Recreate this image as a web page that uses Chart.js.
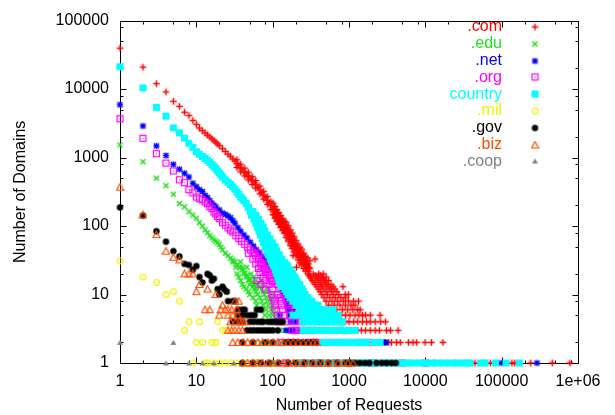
<!DOCTYPE html>
<html>
<head>
<meta charset="utf-8">
<script src="https://cdn.jsdelivr.net/npm/chart.js@4.4.1/dist/chart.umd.min.js"></script>
<style>
  html, body { margin: 0; padding: 0; background: #fff; }
  #wrap { width: 615px; height: 415px; }
</style>
</head>
<body>
<div id="wrap"><canvas id="chart" width="615" height="415"></canvas></div>
<script>
// ==========================
// DATA  ([requests, domains])
// ==========================
const seriesNames = [".com", ".edu", ".net", ".org", "country", ".mil", ".gov", ".biz", ".coop"];

const comPoints = [
  [1,39600],[2,20900],[3,12000],[4,9100],[5,6640],[6,5590],[7,4590],[8,4110],[9,3490],[10,3060],[11,2700],
  [12,2470],[13,2290],[14,2130],[15,2000],[16,1880],[17,1770],[18,1670],[19,1580],[20,1490],[22,1350],[24,1230],
  [26,1120],[28,1040],[30,955],[32,890],
  [34,930],[34,816],[34,716],[36,760],[38,800],[38,703],[38,617],[40,660],[43,700],[43,615],[43,540],[45,575],
  [48,610],[48,535],[48,470],[51,500],[54,527],[54,462],[54,405],[57,435],[60,463],[60,406],[60,356],[64,370],
  [68,383],[68,336],[68,295],[72,310],[76,321],[76,282],[76,247],[80,260],[85,270],[85,237],[85,208],[90,218],
  [95,226],[95,198],[95,174],
  [101,217],[101,178],[101,146],[107,193],[107,158],[107,130],[113,174],[113,143],[113,117],[120,157],[120,129],[120,106],
  [127,143],[127,117],[127,96],[135,128],[135,105],[135,86],[142,117],[142,96],[142,79],[150,114],[150,88],[150,68],
  [160,101],[160,78],[160,60],[170,88],[170,68],[170,52],[180,79],[180,61],[180,47],[190,70],[190,54],[190,42],
  [202,62],[202,48],[202,37],[215,55],[215,42],[215,32],[227,49],[227,38],[227,29],[240,46],[240,35],[240,27],
  [255,40],[255,31],[255,24],[270,36],[270,28],[270,22],[287,34],[287,26],[305,31],[305,24],
  [104,191],[104,168],[104,147],[110,171],[110,150],[110,132],[116,155],[116,136],[116,119],[123,140],[123,123],[123,108],
  [131,127],[131,111],[131,97],[138,114],[138,100],[138,88],[146,105],[146,92],[146,81],[155,95],[155,83],[155,73],
  [165,83],[165,73],[165,64],[175,73],[175,64],[175,56],[185,65],[185,57],[185,50],[196,58],[196,51],[196,45],
  [208,51],[208,45],[208,39],[221,46],[221,40],[221,35],[233,42],[233,36],[233,32],[247,38],[247,33],[247,29],
  [262,34],[262,29],[262,26],[278,31],[278,27],[278,24],[296,28],[296,25],[296,22],
  [185,37],[205,25],[358,33],
  [290,20],[340,20],[400,20],[460,20],[300,19],[360,19],[420,19],[310,18],[370,18],[440,18],[500,18],
  [320,17],[385,17],[460,17],[330,16],[400,16],[470,16],[540,16],[350,15],[420,15],[490,15],
  [360,14],[430,14],[510,14],[580,14],[380,13],[450,13],[530,13],[620,13],[830,13],
  [400,12],[470,12],[560,12],[650,12],[420,11],[500,11],[590,11],[690,11],
  [440,10],[520,10],[620,10],[730,10],[890,10],[980,10],[470,9],[560,9],[660,9],[780,9],[900,9],
  [500,8],[600,8],[710,8],[840,8],[980,8],[1140,8],[1330,8],[540,7],[640,7],[760,7],[900,7],[1060,7],[1200,7],
  [580,6],[690,6],[820,6],[960,6],[1120,6],[1300,6],[1400,6],
  [560,5],[660,5],[780,5],[900,5],[1030,5],[1200,5],[1350,5],[1500,5],[1650,5],[1900,5],[2550,5],
  [800,4],[900,4],[1000,4],[1150,4],[1300,4],[1500,4],[1700,4],[1900,4],[2200,4],[2600,4],[3000,4],
  [1000,3],[1150,3],[1300,3],[1450,3],[1650,3],[1900,3],[2200,3],[2500,3],[3100,3],[3500,3],[4400,3],
  [1500,2],[2000,2],[2500,2],[3000,2],[3300,2],[3600,2],[4200,2],[4700,2],[6000,2],[6900,2],[7700,2],
  [9900,2],[12000,2],[17000,2],
  [6000,1],[13000,1],[25000,1],[44800,1],[71000,1],[136000,1],[148000,1],[240000,1],[460000,1],[785000,1]
];

const eduPoints = [
  [1,1530],[2,870],[3,500],[4,390],[5,292],[6,213],[7,191],[8,162],[9,145],[10,130],
  [11,112],[12,100],[13,88],[14,80],[15,72],[16,67],[17,63],[18,60],[19,57],[20,54],[21,49],[22,45],
  [24,40],[26,37],[28,34],[30,32],[32,30],[34,27],[37,25],[40,23],[43,21],[46,19],[50,17],[53,15],[56,14],[60,12.5],
  [30,30],[38,30],[33,25],[40,25],[46,25],[34,20],[42,20],[52,20],[36,18],[45,18],[56,18],
  [38,16],[48,16],[60,16],[72,16],[40,14],[50,14],[62,14],[75,14],[42,13],[55,13],[68,13],
  [45,12],[58,12],[72,12],[85,12],[25,11],[48,11],[60,11],[75,11],[90,11],
  [50,10],[63,10],[78,10],[95,10],[55,9],[68,9],[82,9],[97,9],[60,8],[72,8],[85,8],[97,8],
  [62,7],[75,7],[88,7],[100,7],[70,6],[82,6],[95,6],[105,6],[79,5],[90,5],[100,5],[110,5],
  [85,4],[95,4],[110,4],[120,4],[97,3],[110,3],[125,3],[145,3],
  [70,2],[90,2],[110,2],[130,2],[150,2],[100,1],[200,1],[400,1]
];

const netPoints = [
  [1,5910],[2,2890],[3,1480],[4,1070],[5,795],[6,675],[7,590],[8,520],[9,420],[10,375],[11,340],[12,320],
  [13,280],[14,260],[15,235],[16,215],[17,200],[18,190],[20,172],[22,155],[24,148],[26,140],[28,132],[30,120],
  [32,110],[35,95],[38,84],[42,74],[46,67],[51,58],[56,51],[61,45],[66,41],[72,36],[78,32],[84,29],[92,25],
  [100,22],[108,20],[115,17],[125,15],[138,12],
  [130,12],[145,12],[135,11],[150,11],[140,10],[155,10],[145,9],[160,9],[150,8],[170,8],[155,7],[180,7],
  [160,6],[185,6],[125,5],[165,5],[190,5],[100,4],[135,4],[170,4],[200,4],[150,3],[170,3],[190,3],[230,3],
  [250,2],[400,2],[2900,2],[3050,2],[500,1],[2000,1],[100000,1],[290000,1]
];

const orgPoints = [
  [1,3690],[2,1910],[3,1140],[4,830],[5,637],[6,474],[7,430],[8,340],[9,305],[10,265],
  [11,250],[12,242],[13,225],[14,213],[15,192],[16,181],[17,160],[18,150],[19,138],[20,128],[22,112],[24,103],
  [26,94],[28,87],[30,82],[33,72],[36,66],[39,60],[43,54],[47,49],[51,45],[55,41],[60,37],[65,33],[70,29],
  [75,26],[80,23],[85,21],[90,19],[95,17],[100,15.5],
  [48,40],[58,40],[66,40],[55,33],[65,33],[75,33],[60,28],[70,28],[80,28],[65,24],[75,24],[88,24],
  [68,21],[80,21],[95,21],[75,18],[95,18],[62,16],[80,16],[100,16],[118,16],[70,14],[90,14],[115,14],[135,14],
  [80,12],[100,12],[125,12],[150,12],[97,10],[115,10],[140,10],[169,10],[100,9],[125,9],[150,9],[175,9],
  [105,8],[130,8],[155,8],[180,8],[107,7],[130,7],[160,7],[185,7],[107,6],[135,6],[165,6],[200,6],
  [115,5],[140,5],[170,5],[210,5],[120,4],[150,4],[190,4],[240,4],[180,3],[200,3],[230,3],[270,3],[320,3],
  [130,2],[170,2],[200,2],[300,2],[360,2],[410,2],[500,2],[620,2],[800,2],[1000,2],[1300,2],[1500,2],[1820,2],
  [150,1],[250,1],[400,1],[700,1],[1000,1],[2000,1],[5000,1],[10000,1]
];

const countryPoints = [
  [1,21200],[2,10400],[3,5410],[4,4020],[5,2710],[6,2300],[7,1920],[8,1620],[9,1400],[10,1220],
  [11,1120],[12,1040],[13,970],[14,910],[15,850],[16,790],[17,740],[18,690],[19,640],[20,600],[21,560],[22,520],
  [24,470],[26,435],[28,405],[30,375],[32,345],[34,315],[36,290],[38,265],[40,250],[42,235],[45,213],[48,188],
  [51,163],[55,163],[53,143],[60,143],[57,125],[65,125],[60,110],[70,110],[63,97],[75,97],[66,85],[79,85],
  [69,74],[77,74],[85,74],[73,65],[82,65],[92,65],[76,57],[87,57],[99,57],[79,50],[92,50],[107,50],
  [84,43],[97,43],[113,43],[88,38],[103,38],[122,38],[94,33],[111,33],[132,33],[96,31],[113,31],[131,31],
  [99,29],[115,29],[130,29],[145,29],[101,27],[118,27],[135,27],[150,27],[104,26],[122,26],[140,26],[157,26],
  [108,23],[125,23],[146,23],[169,23],[111,21],[128,21],[151,21],[176,21],
  [114,20],[132,20],[156,20],[183,20],[117,18],[137,18],[164,18],[196,18],[121,16],[141,16],[170,16],[203,16],
  [125,15],[146,15],[176,15],[210,15],[128,14],[150,14],[178,14],[207,14],[225,14],
  [132,13],[156,13],[182,13],[205,13],[228,13],[145,12],[170,12],[195,12],[220,12],[242,12],
  [152,11],[177,11],[202,11],[228,11],[252,11],
  [159,10],[185,10],[210,10],[238,10],[265,10],[169,9],[195,9],[222,9],[255,9],[290,9],
  [184,8],[210,8],[240,8],[285,8],[326,8],[202,7],[235,7],[270,7],[310,7],[350,7],[392,7],
  [228,6],[265,6],[305,6],[350,6],[410,6],[470,6],[540,6],[618,6],
  [185,5],[215,5],[250,5],[290,5],[330,5],[380,5],[430,5],[490,5],[560,5],[640,5],[720,5],
  [250,4],[290,4],[335,4],[385,4],[445,4],[510,4],[590,4],[680,4],[780,4],[820,4],
  [250,3],[290,3],[335,3],[385,3],[445,3],[510,3],[590,3],[680,3],[780,3],[900,3],[1030,3],[1200,3],
  [450,2],[510,2],[590,2],[680,2],[780,2],[900,2],[1030,2],[1200,2],[1380,2],[1580,2],[1700,2],[2150,2],[2550,2],
  [228,1],[272,1],[326,1],[392,1],[470,1],[564,1],[677,1],[815,1],[980,1],[1180,1],[1390,1],[1700,1],[2000,1],
  [2400,1],[2900,1],[3440,1],[4150,1],[5000,1],[6000,1],[7200,1],[8500,1],[10300,1],[12400,1],[14800,1],
  [17800,1],[21000,1],[25500,1],[30500,1],[35000,1],[38500,1],[53000,1],[60500,1],[83000,1],[114000,1],[170000,1]
];

const milPoints = [
  [1,31],[2,18],[3,15],[4,10],[5,11],[6,8],[7,3],[8,4],[11,4],[19,4],[22,3],[24,3],
  [10,2],[12,2],[16,2],[18,2],
  [9,1],[13,1],[14,1],[17,1],[20,1],[24,1],[29,1],[34,1],[45,1],[60,1]
];

const govPoints = [
  [1,187],[2,142],[3,84],[4,59],[5,43],[6,36],[7,28],[8,27],[9,23],[10,26],[11,18],[12,15],[14,20],[15,19],
  [16,16],[17,17],[19,12],[20,10],[22,13],[23,12],[25,11],[26,8],[30,8],[32,8],[35,6],[40,6],[43,6],[62,6],[70,6],
  [35,5],[40,5],[46,5],[52,5],[58,5],
  [30,4],[35,4],[40,4],[50,4],[56,4],[63,4],[70,4],[75,4],[87,4],[97,4],[110,4],[122,4],[135,4],
  [46,3],[51,3],[56,3],[62,3],[68,3],[75,3],[82,3],[90,3],[100,3],[117,3],
  [40,2],[55,2],[80,2],[100,2],[150,2],[170,2],[190,2],[215,2],[245,2],[280,2],[320,2],[360,2],
  [40,1],[55,1],[70,1],[90,1],[120,1],[160,1],[200,1],[260,1],[330,1],[420,1],[540,1],[700,1],[900,1],
  [1030,1],[1200,1],[1390,1],[1620,1],[1850,1],[2300,1],[2700,1],[3100,1],[3600,1],[4100,1]
];

const bizPoints = [
  [1,369],[2,145],[3,75],[4,43],[5,35],[6,32],[7,20],[8,20],[9,20],[10,11],[11,14],[14,12],[18,10],[22,7],
  [13,6],[15,6],[21,6],[24,6],[26,6],[29,6],[34,6],[32,8],[36,8],[20,5],[26,5],[30,5],[35,5],
  [28,4],[33,4],[37,4],[40,4],[43,4],[26,3],[29,3],[32,3],[36,3],[40,3],
  [30,2],[35,2],[41,2],[47,2],[55,2],[64,2],[74,2],[87,2],[101,2],[117,2],[137,2],[159,2],[185,2],[215,2],
  [251,2],[292,2],[339,2],[380,2],
  [41,1],[47,1],[55,1],[64,1],[74,1],[87,1],[101,1],[117,1],[137,1],[159,1],[185,1],[215,1],[251,1],[292,1],
  [339,1],[392,1],[458,1],[530,1],[617,1],[720,1],[835,1],[970,1],[1130,1]
];

const coopPoints = [
  [1,2],[5,2],[4,1],[8,1],[12,1],[17,1],[31,1]
];

const seriesData = [comPoints, eduPoints, netPoints, orgPoints, countryPoints, milPoints, govPoints, bizPoints, coopPoints];

// axis ticks
const xTickValues = [1, 10, 100, 1000, 10000, 100000, 1000000];
const xTickLabels = ["1", "10", "100", "1000", "10000", "100000", "1e+06"];
const yTickValues = [1, 10, 100, 1000, 10000, 100000];
const yTickLabels = ["1", "10", "100", "1000", "10000", "100000"];
const minorSteps = [2, 5, 8];

// ==========================
// STYLE
// ==========================
const seriesColors = ["#ff0000", "#1ee01e", "#0000ff", "#ff00ff", "#00ffff", "#f0f000", "#000000", "#ff4d00", "#808080"];
const markerKinds = ["plus", "cross", "star", "box", "boxFilled", "circle", "circleFilled", "triangle", "triangleFilled"];

Chart.defaults.font.family = '"Liberation Sans", Arial, Helvetica, sans-serif';
Chart.defaults.font.size = 16;
Chart.defaults.color = "#000";

// small canvases used as point markers (gnuplot style)
function makeMarker(kind, color) {
    const c = document.createElement("canvas");
    c.width = 9;
    c.height = 9;
    const g = c.getContext("2d");
    g.strokeStyle = color;
    g.fillStyle = color;
    g.lineWidth = 1.5;
    const m = 4.5;
    const line = (x1, y1, x2, y2) => {
        g.beginPath(); g.moveTo(x1, y1); g.lineTo(x2, y2); g.stroke();
    };
    switch (kind) {
        case "plus":
            line(m, 1.2, m, 7.8); line(1.2, m, 7.8, m);
            break;
        case "cross":
            line(2, 2, 7, 7); line(2, 7, 7, 2);
            break;
        case "star":
            line(m, 1.5, m, 7.5); line(1.5, m, 7.5, m);
            line(2, 2, 7, 7); line(2, 7, 7, 2);
            break;
        case "box":
            g.lineWidth = 1.2;
            g.strokeRect(1.5, 1.5, 6, 6);
            g.fillRect(4, 4, 1, 1);
            break;
        case "boxFilled":
            g.fillRect(1, 1, 7, 7);
            break;
        case "circle":
            g.lineWidth = 1.2;
            g.beginPath(); g.arc(m, m, 2.9, 0, Math.PI * 2); g.stroke();
            g.fillRect(4, 4, 1, 1);
            break;
        case "circleFilled":
            g.beginPath(); g.arc(m, m, 3.2, 0, Math.PI * 2); g.fill();
            break;
        case "triangle":
            g.lineWidth = 1.2;
            g.beginPath(); g.moveTo(m, 1); g.lineTo(8, 7.5); g.lineTo(1, 7.5); g.closePath(); g.stroke();
            break;
        case "triangleFilled":
            g.beginPath(); g.moveTo(m, 2); g.lineTo(7.5, 7); g.lineTo(1.5, 7); g.closePath(); g.fill();
            break;
    }
    return c;
}

const markers = markerKinds.map((k, i) => makeMarker(k, seriesColors[i]));

// ==========================
// FRAME + INWARD TICKS
// ==========================
const framePlugin = {
    id: "frame",
    beforeDatasetsDraw(chart) {
        const { ctx, chartArea: a, scales: { x, y } } = chart;
        ctx.save();
        ctx.strokeStyle = "#000";
        ctx.lineWidth = 1;
        const L = Math.round(a.left) + 0.5, R = Math.round(a.right) + 0.5;
        const T = Math.round(a.top) + 0.5, B = Math.round(a.bottom) + 0.5;
        ctx.strokeRect(L, T, R - L, B - T);

        const tick = (x1, y1, x2, y2) => {
            ctx.beginPath(); ctx.moveTo(x1, y1); ctx.lineTo(x2, y2); ctx.stroke();
        };
        const xTick = (v, len) => {
            const px = Math.round(x.getPixelForValue(v)) + 0.5;
            tick(px, B, px, B - len);
            tick(px, T, px, T + len);
        };
        const yTick = (v, len) => {
            const py = Math.round(y.getPixelForValue(v)) + 0.5;
            tick(L, py, L + len, py);
            tick(R, py, R - len, py);
        };
        xTickValues.forEach(v => xTick(v, 6));
        yTickValues.forEach(v => yTick(v, 6));
        xTickValues.slice(0, -1).forEach(d => minorSteps.forEach(s => xTick(d * s, 3)));
        yTickValues.slice(0, -1).forEach(d => minorSteps.forEach(s => yTick(d * s, 3)));
        ctx.restore();
    }
};

// ==========================
// KEY (text right-aligned, symbol on the right)
// ==========================
const keyPlugin = {
    id: "key",
    afterDatasetsDraw(chart) {
        const { ctx } = chart;
        ctx.save();
        ctx.font = '16px "Liberation Sans", Arial, sans-serif';
        ctx.textAlign = "right";
        ctx.textBaseline = "middle";
        seriesNames.forEach((name, i) => {
            const rowY = 27 + i * 16.8;
            ctx.fillStyle = seriesColors[i];
            ctx.fillText(name, 502, rowY);
            ctx.drawImage(markers[i], 535 - 4.5, Math.round(rowY) - 4.5);
        });
        ctx.restore();
    }
};

// ==========================
// CHART
// ==========================
new Chart(document.getElementById("chart"), {
    type: "scatter",
    data: {
        datasets: seriesNames.map((name, i) => ({
            label: name,
            data: seriesData[i].map(([x, y]) => ({ x, y })),
            pointStyle: markers[i],
            pointRadius: 4,
            pointHoverRadius: 4,
            showLine: false,
            clip: false,
            order: seriesNames.length - i
        }))
    },
    options: {
        responsive: false,
        animation: false,
        events: [],
        layout: { padding: { left: 0, right: 37, top: 13, bottom: 0 } },
        plugins: {
            legend: { display: false },
            tooltip: { enabled: false }
        },
        scales: {
            x: {
                type: "logarithmic",
                position: "bottom",
                min: 1,
                max: 1000000,
                afterBuildTicks: s => { s.ticks = xTickValues.map(v => ({ value: v })); },
                afterFit: s => { s.height = 52; },
                grid: { display: false, drawTicks: false },
                border: { display: false },
                ticks: {
                    autoSkip: false,
                    maxRotation: 0,
                    padding: 9,
                    color: "#000",
                    callback: (v, i) => xTickLabels[i]
                },
                title: {
                    display: true,
                    text: "Number of Requests",
                    color: "#000",
                    padding: { top: 0, bottom: 0 }
                }
            },
            y: {
                type: "logarithmic",
                position: "left",
                min: 1,
                max: 100000,
                afterBuildTicks: s => { s.ticks = yTickValues.map(v => ({ value: v })); },
                afterFit: s => { s.width = 120; },
                grid: { display: false, drawTicks: false },
                border: { display: false },
                ticks: {
                    autoSkip: false,
                    padding: 11,
                    color: "#000",
                    callback: (v, i) => yTickLabels[i]
                },
                title: {
                    display: true,
                    text: "Number of Domains",
                    color: "#000",
                    padding: { top: 11, bottom: 0 }
                }
            }
        }
    },
    plugins: [framePlugin, keyPlugin]
});
</script>
</body>
</html>
